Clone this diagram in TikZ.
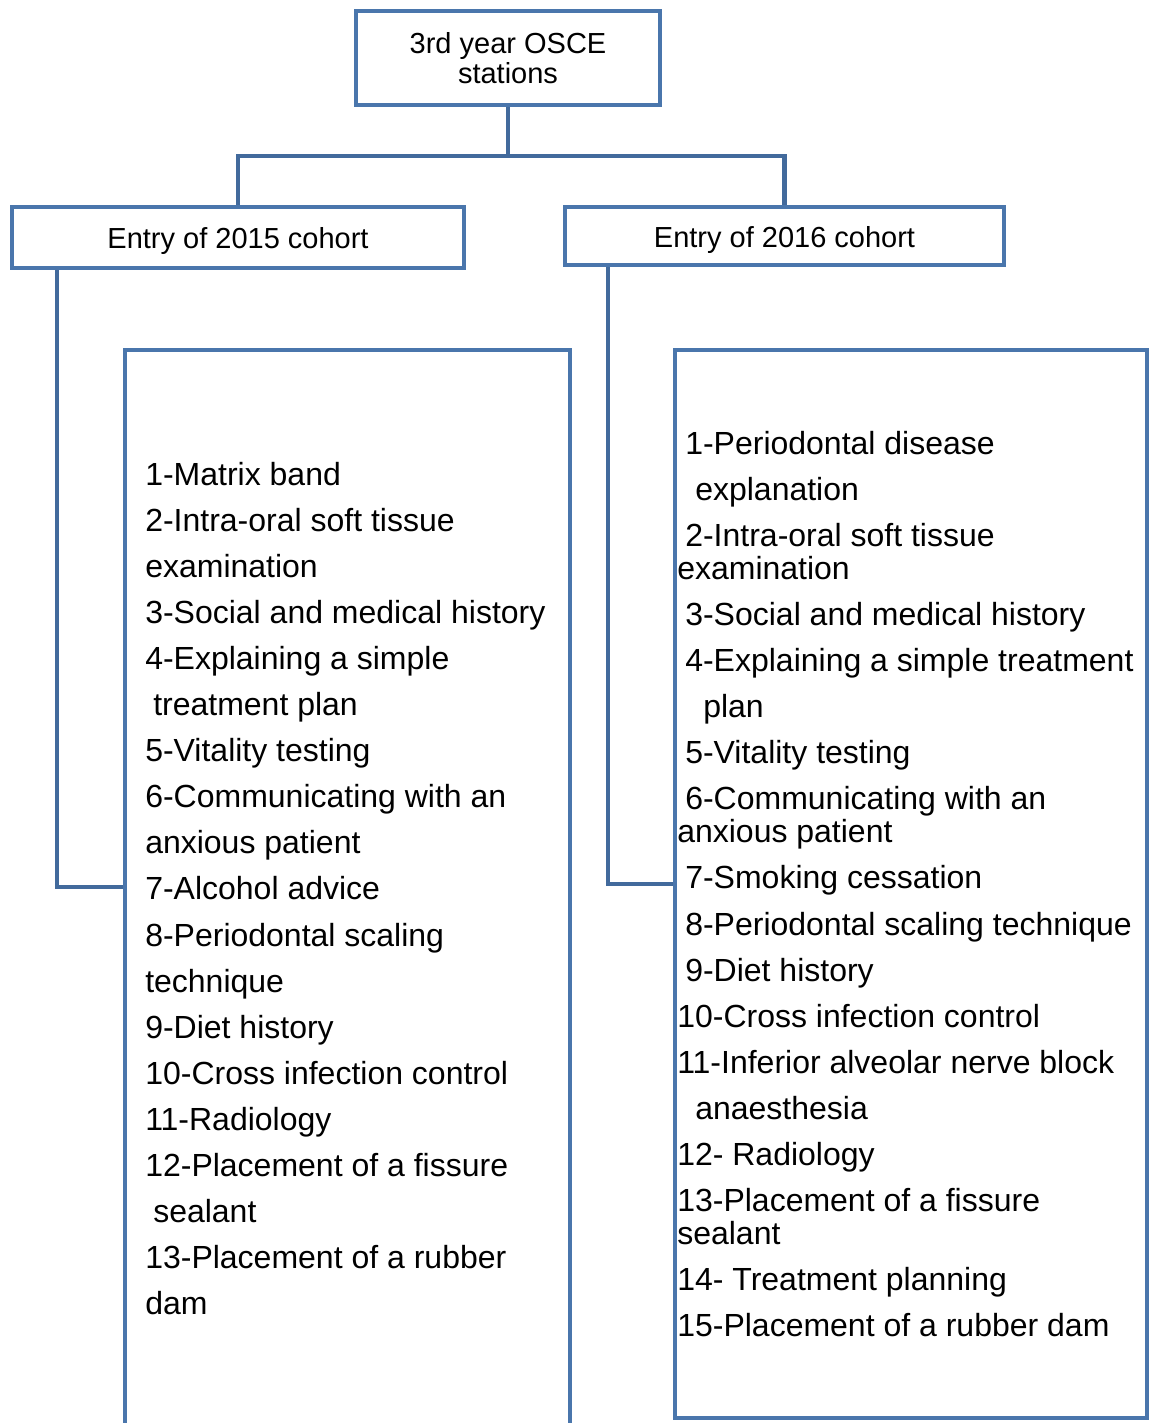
\documentclass[tikz,border=0pt]{standalone}
\usepackage{fontspec}
\setmainfont{Liberation Sans}
\definecolor{boxblue}{RGB}{74,118,172}
\definecolor{linkblue}{RGB}{66,106,156}
\begin{document}
\begin{tikzpicture}[x=0.75pt,y=-0.75pt,
  frame/.style={draw=boxblue,line width=3.4pt,rectangle,inner sep=0pt,fill=white},
  link/.style={draw=linkblue,line width=3.4pt,line join=miter},
  headfont/.style={font=\fontsize{21.75}{22.5}\selectfont},
  itemfont/.style={font=\fontsize{24}{28}\selectfont},
  item/.style={itemfont,anchor=base west,inner sep=0pt}]
\useasboundingbox (0,0) rectangle (1152,1423);
\begin{scope}
\clip (0,0) rectangle (1152,1423);

% title and cohort boxes
\node[frame,headfont,align=center,minimum width=228pt,minimum height=70.5pt] (top) at (508,58)
  {3rd year OSCE\\stations};
\node[frame,headfont,minimum width=339pt,minimum height=45.75pt,text height=17pt,text depth=0pt] (c15) at (238,237.5)
  {Entry of 2015 cohort};
\node[frame,headfont,minimum width=329.25pt,minimum height=43.5pt,text height=17pt,text depth=0pt] (c16) at (784.5,236)
  {Entry of 2016 cohort};

% station list frames (left one runs past the lower edge)
\node[frame,minimum width=333.75pt,minimum height=817.5pt] (list15) at (347.5,895) {};
\node[frame,minimum width=354pt,minimum height=801pt] (list16) at (911,884) {};

% tree connectors
\coordinate (bus) at (508,156);
\draw[link] (top.south) -- (bus);
\draw[link] (c15.north) |- (bus) -| (c16.north);
\coordinate (k15) at (57,887);
\coordinate (k16) at (608,884);
\draw[link] (c15.south -| k15) -- (k15) -- (k15 -| list15.west);
\draw[link] (c16.south -| k16) -- (k16) -- (k16 -| list16.west);

% 2015 stations
\foreach \t/\x [count=\k from 0] in {
  1-Matrix band/145,
  2-Intra-oral soft tissue/145,
  examination/145,
  3-Social and medical history/145,
  4-Explaining a simple/145,
  treatment plan/153,
  5-Vitality testing/145,
  6-Communicating with an/145,
  anxious patient/145,
  7-Alcohol advice/145,
  8-Periodontal scaling/145,
  technique/145,
  9-Diet history/145,
  10-Cross infection control/145,
  11-Radiology/145,
  12-Placement of a fissure/145,
  sealant/153,
  13-Placement of a rubber/145,
  dam/145}
  \node[item] (a\k) at (\x,485+46.1*\k) {\t};

% 2016 stations
\foreach \t/\x/\y [count=\k] in {
  1-Periodontal disease/685/454,
  explanation/695/500,
  2-Intra-oral soft tissue/685/546,
  examination/677/579,
  3-Social and medical history/685/625,
  4-Explaining a simple treatment/685/671,
  plan/703/717,
  5-Vitality testing/685/763,
  6-Communicating with an/685/809,
  anxious patient/677/842,
  7-Smoking cessation/685/888,
  8-Periodontal scaling technique/685/935,
  9-Diet history/685/981,
  10-Cross infection control/677/1027,
  11-Inferior alveolar nerve block/677/1073,
  anaesthesia/695/1119,
  12- Radiology/677/1165,
  13-Placement of a fissure/677/1211,
  sealant/677/1244,
  14- Treatment planning/677/1290,
  15-Placement of a rubber dam/677/1336}
  \node[item] (b\k) at (\x,\y) {\t};
\end{scope}
\end{tikzpicture}
\end{document}
